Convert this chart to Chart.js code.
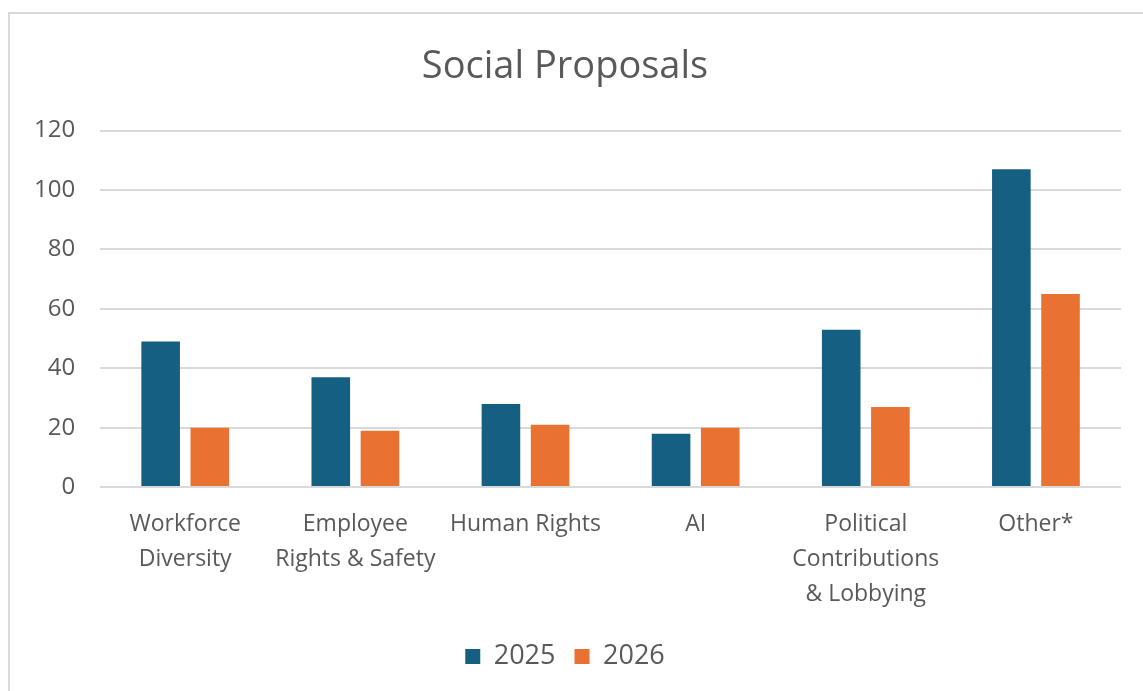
<!DOCTYPE html>
<html>
<head>
<meta charset="utf-8">
<script src="https://cdn.jsdelivr.net/npm/chart.js@4"></script>
<style>
  body { margin: 0; background: #fff; }
  #frame { position: absolute; left: 8px; top: 12px; width: 1300px; height: 800px; border: 2px solid #d9d9d9; }
  #wrap { position: absolute; left: 0; top: 0; width: 1143px; height: 691px; }
</style>
</head>
<body>
<div id="frame"></div>
<div id="wrap"><canvas id="chart"></canvas></div>
<script>
const categories = [
    ['Workforce', 'Diversity'],
    ['Employee', 'Rights & Safety'],
    'Human Rights',
    'AI',
    ['Political', 'Contributions', '& Lobbying'],
    'Other*'
];
const values2025 = [49, 37, 28, 18, 53, 107];
const values2026 = [20, 19, 21, 20, 27, 65];
const yTicks = [0, 20, 40, 60, 80, 100, 120];

const textColor = '#595959';
const fontFamily = "'Open Sans', 'Liberation Sans', sans-serif";

const config = {
    type: 'bar',
    data: {
        labels: categories,
        datasets: [
            {
                label: '2025',
                data: values2025,
                backgroundColor: '#156082',
                categoryPercentage: 0.578,
                barPercentage: 0.785
            },
            {
                label: '2026',
                data: values2026,
                backgroundColor: '#E97132',
                categoryPercentage: 0.578,
                barPercentage: 0.785
            }
        ]
    },
    options: {
        responsive: true,
        maintainAspectRatio: false,
        animation: false,
        layout: {
            padding: { top: 30, right: 22, bottom: 11, left: 9 }
        },
        scales: {
            y: {
                min: 0,
                max: 120,
                afterBuildTicks: axis => { axis.ticks = yTicks.map(v => ({ value: v })); },
                border: { display: false },
                grid: { color: '#d9d9d9', lineWidth: 2, drawTicks: false },
                ticks: {
                    color: textColor,
                    padding: 25,
                    font: { family: fontFamily, size: 24 }
                }
            },
            x: {
                border: { display: false },
                grid: { display: false },
                ticks: {
                    color: textColor,
                    padding: 12,
                    maxRotation: 0,
                    autoSkip: false,
                    font: { family: fontFamily, size: 23, lineHeight: 1.52 }
                }
            }
        },
        plugins: {
            title: {
                display: true,
                text: 'Social Proposals',
                color: textColor,
                font: { family: fontFamily, size: 38, weight: 'normal' },
                padding: { top: 14, bottom: 41 }
            },
            legend: {
                position: 'bottom',
                labels: {
                    color: textColor,
                    boxWidth: 15,
                    boxHeight: 15,
                    padding: 19,
                    font: { family: fontFamily, size: 27 }
                }
            },
            tooltip: { enabled: false }
        }
    }
};

const myChart = new Chart(document.getElementById('chart'), config);
</script>
</body>
</html>
